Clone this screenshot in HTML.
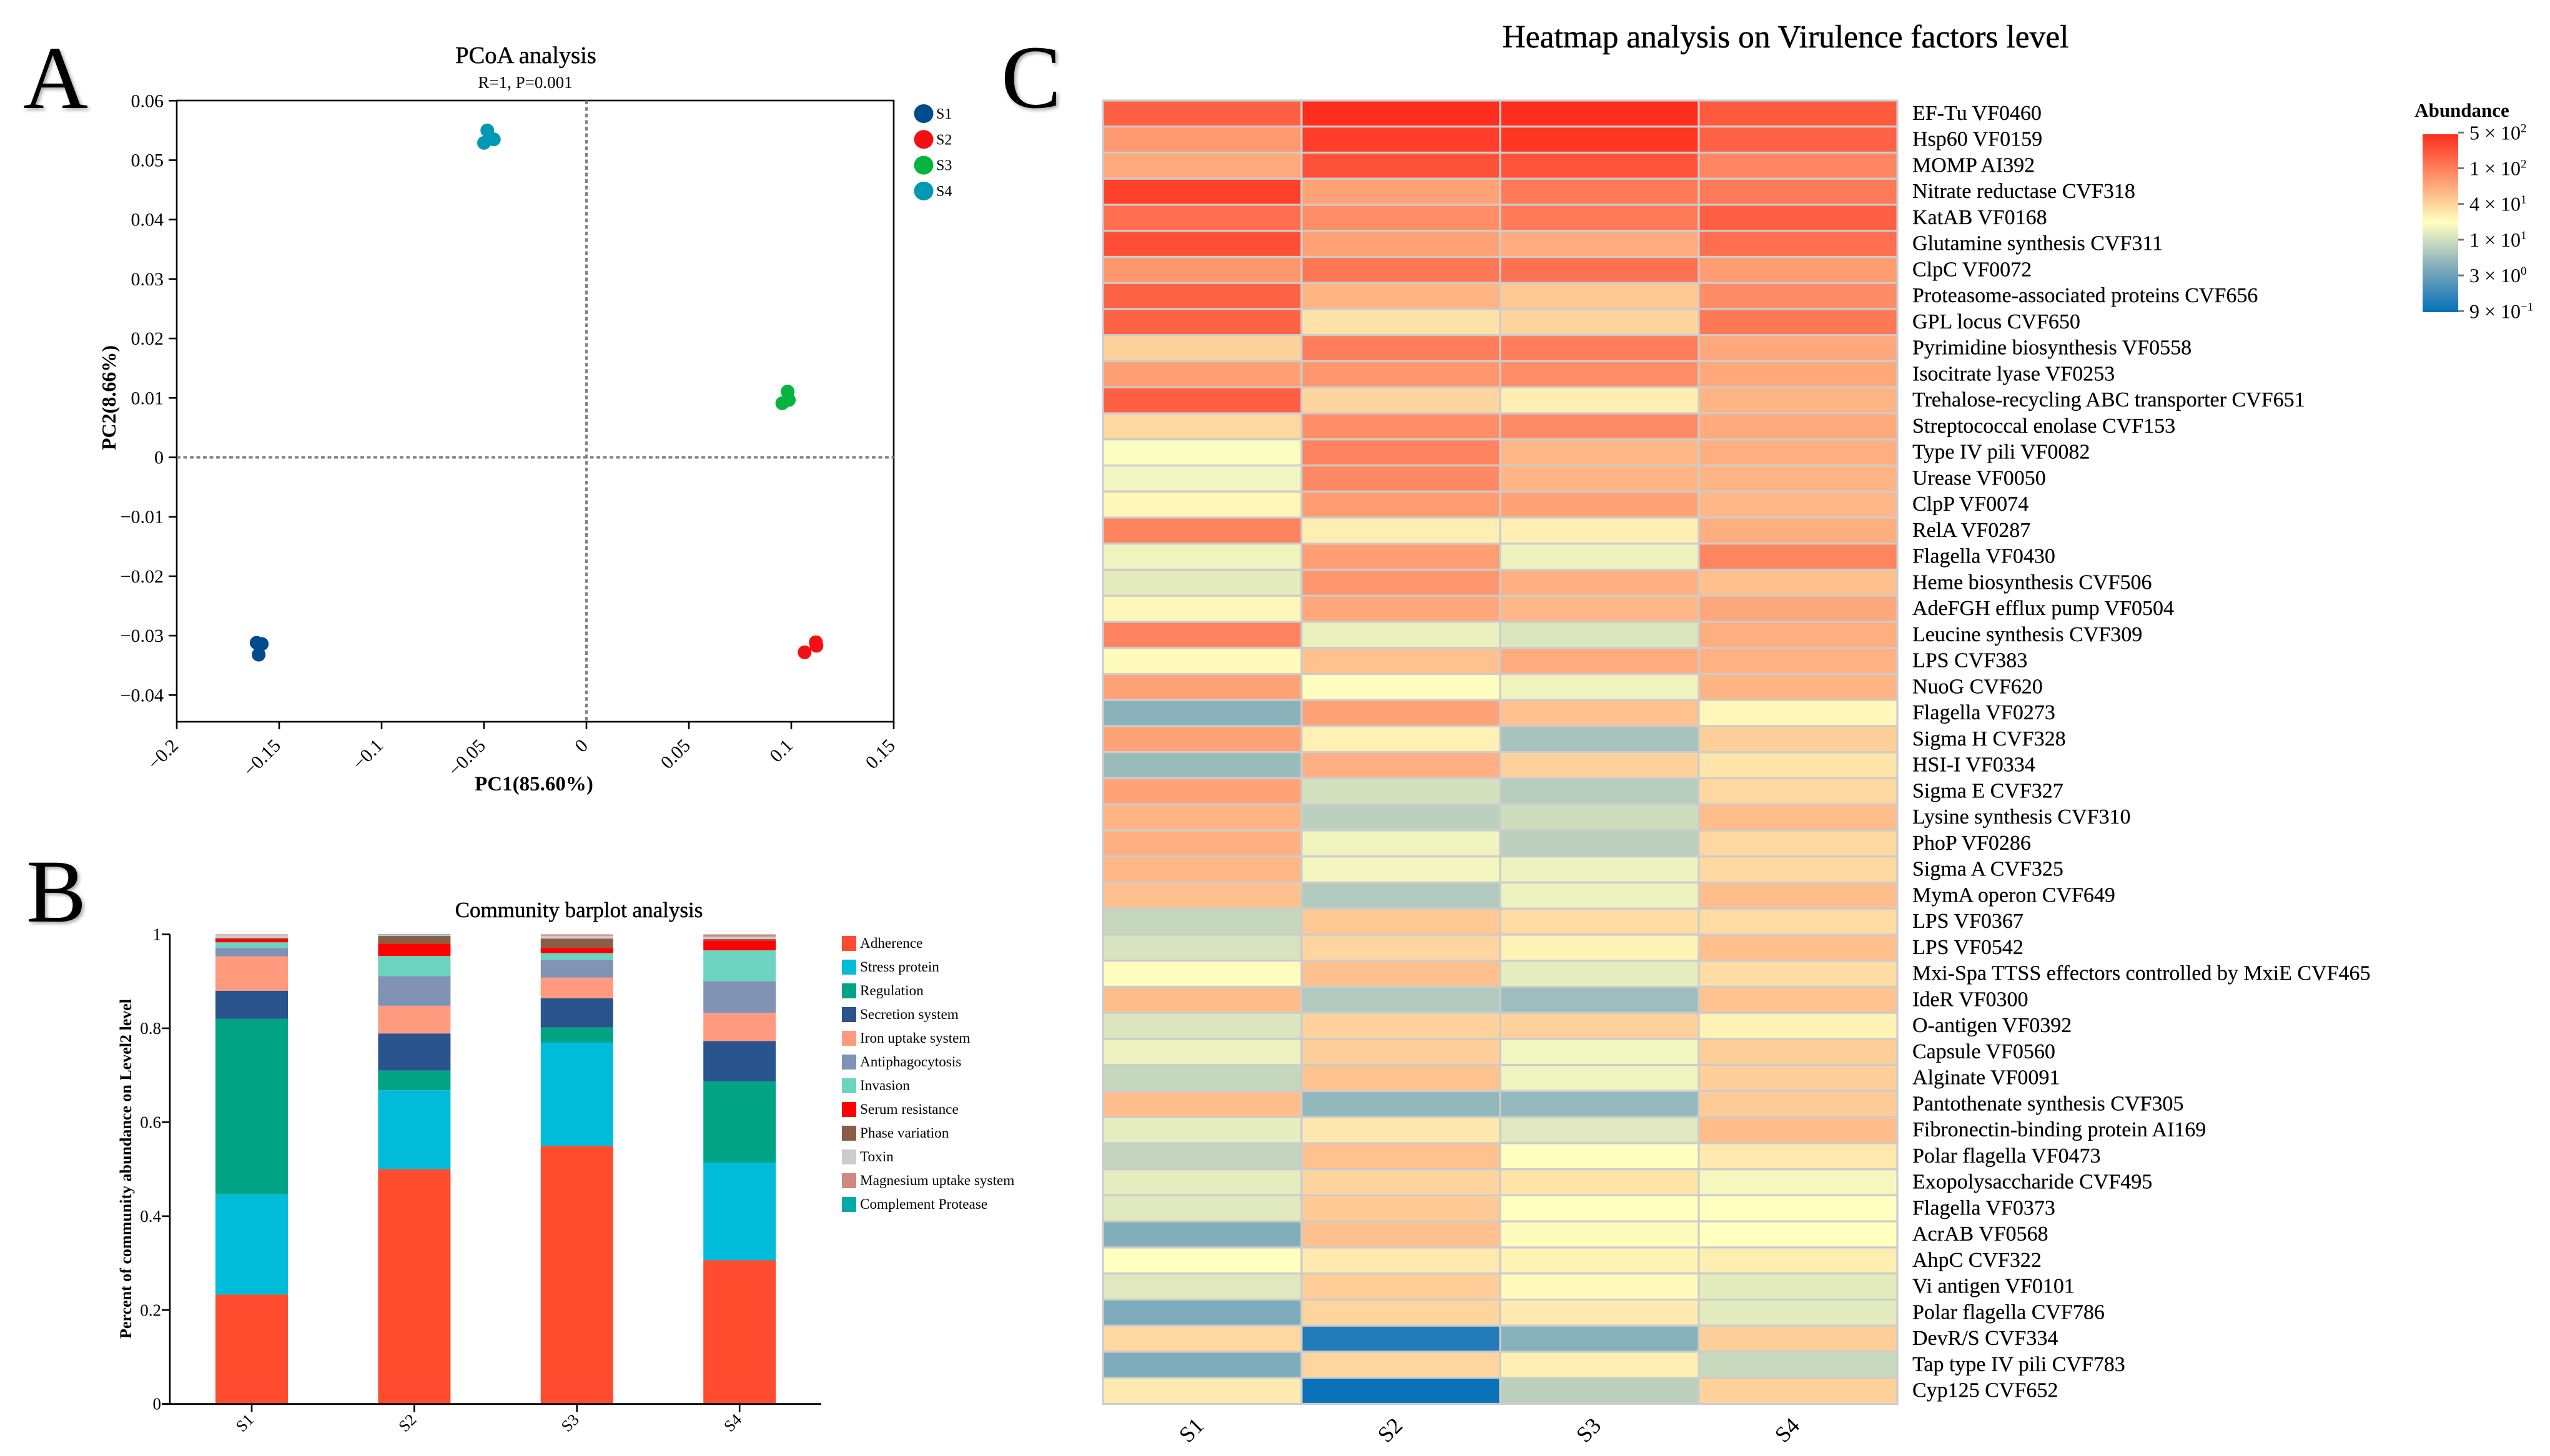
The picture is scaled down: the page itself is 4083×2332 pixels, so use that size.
<!DOCTYPE html>
<html lang="en">
<head>
<meta charset="utf-8">
<title>Virulence factor analysis figure</title>
<style>
html,body{margin:0;padding:0;background:#fff;}
svg{display:block;}
text{font-family:"Liberation Serif","Times New Roman",serif;fill:#000;}
.heavy{stroke:#000;stroke-width:.5px;}
.semi{stroke:#000;stroke-width:.2px;}
</style>
</head>
<body>
<svg id="fig" xmlns="http://www.w3.org/2000/svg" width="4083" height="2332" viewBox="0 0 4083 2332">
  <defs>
    <linearGradient id="cbar" x1="0" y1="0" x2="0" y2="1">
      <stop offset="0" stop-color="#FF2E1C"/>
      <stop offset="0.495" stop-color="#FFFFBF"/>
      <stop offset="0.7475" stop-color="#82ADBC"/>
      <stop offset="1" stop-color="#0570B8"/>
    </linearGradient>
  </defs>
  <rect x="0" y="0" width="4083" height="2332" fill="#fff"/>

  <text x="37" y="173" font-size="144" style="filter:drop-shadow(3px 3px 3px rgba(0,0,0,.35))">A</text>
  <text x="42" y="1476" font-size="144" style="filter:drop-shadow(3px 3px 3px rgba(0,0,0,.35))">B</text>
  <text x="1603" y="172" font-size="144" style="filter:drop-shadow(3px 3px 3px rgba(0,0,0,.35))">C</text>

  <text class="heavy" x="842" y="101" font-size="38.5" text-anchor="middle">PCoA analysis</text>
  <text x="841" y="141" font-size="27" text-anchor="middle">R=1, P=0.001</text>
  <text x="855" y="1266" font-size="33" font-weight="bold" text-anchor="middle">PC1(85.60%)</text>
  <text transform="translate(185,637) rotate(-90)" font-size="32" font-weight="bold" text-anchor="middle">PC2(8.66%)</text>

  <text class="heavy" x="927" y="1469" font-size="35" text-anchor="middle">Community barplot analysis</text>
  <text transform="translate(210,1872) rotate(-90)" font-size="26" font-weight="bold" text-anchor="middle">Percent of community abundance on Level2 level</text>

  <text class="heavy" x="2859" y="76" font-size="51.5" text-anchor="middle">Heatmap analysis on Virulence factors level</text>
  <text x="3942" y="187" font-size="31" font-weight="bold" text-anchor="middle">Abundance</text>
  <rect x="3879" y="215" width="57" height="285" fill="url(#cbar)"/>

  <g id="pcoa"></g>
  <g id="barplot"></g>
  <g id="heatmap"></g>
</svg>

<script>
/* ---------- PCoA data ---------- */
const pcoaGroups = ['S1','S2','S3','S4'];
const pcoaColors = ['#004A8F','#F50F14','#04B43C','#0098B4'];
const s1Pc1 = [-0.161,-0.1585,-0.160];
const s1Pc2 = [-0.0312,-0.0314,-0.0332];
const s2Pc1 = [0.112,0.1123,0.1065];
const s2Pc2 = [-0.0311,-0.0317,-0.0328];
const s3Pc1 = [0.0982,0.0988,0.0956];
const s3Pc2 = [0.01106,0.00965,0.0091];
const s4Pc1 = [-0.0484,-0.0452,-0.050];
const s4Pc2 = [0.055,0.0535,0.0529];
const pcoaXTicks = [-0.2,-0.15,-0.1,-0.05,0,0.05,0.1,0.15];
const pcoaYTicks = [0.06,0.05,0.04,0.03,0.02,0.01,0,-0.01,-0.02,-0.03,-0.04];

/* ---------- Bar plot data ---------- */
const barCategories = ['S1','S2','S3','S4'];
const barSeriesNames = ['Adherence','Stress protein','Regulation','Secretion system','Iron uptake system','Antiphagocytosis','Invasion','Serum resistance','Phase variation','Toxin','Magnesium uptake system','Complement Protease'];
const barSeriesColors = ['#FF4B2E','#00BCD8','#00A383','#2A548D','#FF9A7F','#8092B5','#6DD3C1','#FF0000','#8A5E44','#CCCCCC','#CF8A80','#00AAA8'];
const adherence = [0.233,0.500,0.549,0.306];
const stressProtein = [0.213,0.168,0.221,0.208];
const regulation = [0.374,0.042,0.032,0.173];
const secretionSystem = [0.060,0.079,0.062,0.086];
const ironUptake = [0.073,0.059,0.044,0.060];
const antiphagocytosis = [0.018,0.063,0.038,0.067];
const invasion = [0.012,0.043,0.014,0.066];
const serumResistance = [0.007,0.026,0.011,0.021];
const phaseVariation = [0.002,0.0166,0.020,0.003];
const toxin = [0.006,0.0015,0.006,0.005];
const magnesiumUptake = [0.002,0.001,0.003,0.005];
const complementProtease = [0,0.001,0,0];
const barYTicks = [0,0.2,0.4,0.6,0.8,1];

/* ---------- Heatmap data (log10 abundance) ---------- */
const heatColumns = ['S1','S2','S3','S4'];
const heatRows = ['EF-Tu VF0460','Hsp60 VF0159','MOMP AI392','Nitrate reductase CVF318','KatAB VF0168','Glutamine synthesis CVF311','ClpC VF0072','Proteasome-associated proteins CVF656','GPL locus CVF650','Pyrimidine biosynthesis VF0558','Isocitrate lyase VF0253','Trehalose-recycling ABC transporter CVF651','Streptococcal enolase CVF153','Type IV pili VF0082','Urease VF0050','ClpP VF0074','RelA VF0287','Flagella VF0430','Heme biosynthesis CVF506','AdeFGH efflux pump VF0504','Leucine synthesis CVF309','LPS CVF383','NuoG CVF620','Flagella VF0273','Sigma H CVF328','HSI-I VF0334','Sigma E CVF327','Lysine synthesis CVF310','PhoP VF0286','Sigma A CVF325','MymA operon CVF649','LPS VF0367','LPS VF0542','Mxi-Spa TTSS effectors controlled by MxiE CVF465','IdeR VF0300','O-antigen VF0392','Capsule VF0560','Alginate VF0091','Pantothenate synthesis CVF305','Fibronectin-binding protein AI169','Polar flagella VF0473','Exopolysaccharide CVF495','Flagella VF0373','AcrAB VF0568','AhpC CVF322','Vi antigen VF0101','Polar flagella CVF786','DevR/S CVF334','Tap type IV pili CVF783','Cyp125 CVF652'];
const heatS1 = [2.37,2.00,1.89,2.58,2.28,2.49,2.01,2.35,2.35,1.62,1.96,2.38,1.59,1.31,1.25,1.38,2.14,1.24,1.18,1.38,2.14,1.35,1.93,0.69,1.93,0.77,1.93,1.82,1.85,1.80,1.74,1.01,1.11,1.34,1.76,1.135,1.22,1.01,1.76,1.19,1.00,1.19,1.16,0.64,1.33,1.15,0.62,1.59,0.62,1.46];
const heatS2 = [2.70,2.60,2.47,1.94,2.07,1.94,2.22,1.82,1.52,2.18,2.02,1.60,2.07,2.14,2.10,1.98,1.44,1.97,2.02,1.90,1.21,1.73,1.34,1.93,1.42,1.85,1.09,0.96,1.245,1.26,0.90,1.68,1.60,1.74,0.90,1.62,1.64,1.72,0.73,1.48,1.73,1.60,1.68,1.74,1.47,1.65,1.60,0.11,1.60,-0.02];
const heatS3 = [2.70,2.65,2.45,2.20,2.20,1.88,2.25,1.69,1.60,2.18,2.07,1.44,2.08,1.80,1.81,1.94,1.43,1.23,1.85,1.80,1.135,1.88,1.24,1.73,0.84,1.62,0.93,1.06,0.95,1.23,1.23,1.56,1.41,1.19,0.79,1.62,1.25,1.24,0.74,1.15,1.33,1.50,1.33,1.35,1.41,1.36,1.46,0.66,1.43,0.95];
const heatS4 = [2.41,2.35,2.12,2.20,2.37,2.28,1.98,2.08,2.21,1.90,1.90,1.82,1.89,1.86,1.82,1.80,1.86,2.13,1.74,1.90,1.86,1.84,1.82,1.37,1.64,1.50,1.58,1.76,1.58,1.58,1.76,1.56,1.74,1.56,1.72,1.41,1.64,1.64,1.67,1.76,1.47,1.27,1.33,1.33,1.44,1.18,1.17,1.64,1.03,1.62];
const colorbarLabels = ['5 × 10^2','1 × 10^2','4 × 10^1','1 × 10^1','3 × 10^0','9 × 10^−1'];

/* ---------- helpers ---------- */
const NS = 'http://www.w3.org/2000/svg';
function mk(parent, tag, attrs, txt){
  const e = document.createElementNS(NS, tag);
  for (const k in attrs) e.setAttribute(k, attrs[k]);
  if (txt !== undefined) e.textContent = txt;
  parent.appendChild(e);
  return e;
}
const fmtNeg = v => String(v).replace('-', '\u2212');

/* ---------- PCoA ---------- */
(function(){
  const g = document.getElementById('pcoa');
  const L = 283, R = 1431, T = 161, B = 1156;
  const x = v => L + (v + 0.2) / 0.35 * (R - L);
  const y = v => 732.5 - v * 9520;

  const frame = mk(g,'rect',{x:L,y:T,width:R-L,height:B-T,fill:'none',stroke:'#000','stroke-width':2.6});
  
  

  const vz = mk(g,'line',{x1:x(0),x2:x(0),y1:T,y2:B,stroke:'#808080','stroke-width':4,'stroke-dasharray':'6 4.5'});
  
  
  const hz = mk(g,'line',{x1:L,x2:R,y1:y(0),y2:y(0),stroke:'#808080','stroke-width':4,'stroke-dasharray':'6 4.5'});
  
  

  pcoaXTicks.forEach(v => {
    const t = mk(g,'line',{x1:x(v),x2:x(v),y1:B,y2:B+12,stroke:'#000','stroke-width':2.6});
    
    
    const l = mk(g,'text',{transform:`translate(${x(v)+4},1196) rotate(-45)`,'font-size':30,'text-anchor':'end'},fmtNeg(v));
    
    
  });
  pcoaYTicks.forEach(v => {
    const t = mk(g,'line',{x1:L-13,x2:L,y1:y(v),y2:y(v),stroke:'#000','stroke-width':2.6});
    
    
    const l = mk(g,'text',{x:262,y:y(v)+10,'font-size':30,'text-anchor':'end'},fmtNeg(v));
    
    
  });

  const xs = [s1Pc1,s2Pc1,s3Pc1,s4Pc1];
  const ys = [s1Pc2,s2Pc2,s3Pc2,s4Pc2];
  pcoaGroups.forEach((name,i) => {
    xs[i].forEach((v,j) => {
      const c = mk(g,'ellipse',{cx:x(v),cy:y(ys[i][j]),rx:11,ry:11,fill:pcoaColors[i]});
      
      
    });
    const ly = 182 + i * 41.3;
    const lc = mk(g,'ellipse',{cx:1479,cy:ly,rx:15.5,ry:15,fill:pcoaColors[i]});
    
    
    const lt = mk(g,'text',{x:1499,y:ly+8,'font-size':24},name);
    
    
  });
})();

/* ---------- Stacked bar plot ---------- */
(function(){
  const g = document.getElementById('barplot');
  const L = 272, R = 1315, Y0 = 2248.7, Y1 = 1496.5, barW = 116;
  const y = v => Y0 - v * (Y0 - Y1);
  const cx = i => 403 + i * 260.4;
  const series = [adherence,stressProtein,regulation,secretionSystem,ironUptake,antiphagocytosis,invasion,serumResistance,phaseVariation,toxin,magnesiumUptake,complementProtease];

  barCategories.forEach((cat,i) => {
    let acc = 0;
    series.forEach((s,k) => {
      const h = s[i];
      const r = mk(g,'rect',{x:cx(i)-barW/2,y:y(acc+h),width:barW,height:Math.max(0,y(acc)-y(acc+h)),fill:barSeriesColors[k]});
      
      
      acc += h;
    });
    const t = mk(g,'line',{x1:cx(i),x2:cx(i),y1:Y0,y2:Y0+13,stroke:'#000','stroke-width':2.6});
    
    
    const l = mk(g,'text',{transform:`translate(${cx(i)-5},2285) rotate(-45)`,'font-size':26,'text-anchor':'middle'},cat);
    
    
  });

  const ax = mk(g,'line',{x1:L-13,x2:R,y1:Y0,y2:Y0,stroke:'#000','stroke-width':2.8});
  
  
  const ay = mk(g,'line',{x1:L,x2:L,y1:Y1,y2:Y0,stroke:'#000','stroke-width':2.6});
  
  

  barYTicks.forEach(v => {
    const t = mk(g,'line',{x1:L-13,x2:L,y1:y(v),y2:y(v),stroke:'#000','stroke-width':2.6});
    
    
    const l = mk(g,'text',{x:258,y:y(v)+9,'font-size':27,'text-anchor':'end'},String(v));
    
    
  });

  barSeriesNames.forEach((name,i) => {
    const ly = 1511 + i * 38.0;
    const s = mk(g,'rect',{x:1348,y:ly-12,width:23,height:24,fill:barSeriesColors[i]});
    
    
    const t = mk(g,'text',{x:1377,y:ly+7,'font-size':23.2},name);
    
    
  });
})();

/* ---------- Heatmap ---------- */
(function(){
  const g = document.getElementById('heatmap');
  const L = 1766, T = 161, cw = 318, rh = 41.75;
  const cols = [heatS1,heatS2,heatS3,heatS4];
  const lo = -0.046, hi = 2.7, mid = 1.327;
  const cTop = [255,46,28], cMid = [255,255,191], cBot = [5,112,184];
  function color(v){
    const t = v >= mid ? (v - mid) / (hi - mid) : (mid - v) / (mid - lo);
    const end = v >= mid ? cTop : cBot;
    const u = Math.min(1, Math.max(0, t));
    const rgb = cMid.map((c,i) => c + (end[i] - c) * u);
    if (v < mid) rgb[1] -= 40 * u * (1 - u);
    return 'rgb(' + rgb.map(Math.round).join(',') + ')';
  }
  heatRows.forEach((name,r) => {
    heatColumns.forEach((col,c) => {
      const cell = mk(g,'rect',{x:L+c*cw,y:T+r*rh,width:cw,height:rh,fill:color(cols[c][r]),stroke:'#cccccc','stroke-width':3.2});
      
      
    });
    const l = mk(g,'text',{x:3062,y:T+(r+0.5)*rh+10,'font-size':34,'class':'semi'},name);
    
    
  });
  heatColumns.forEach((col,c) => {
    const l = mk(g,'text',{transform:`translate(${L+(c+0.5)*cw-9},2299) rotate(-45)`,'font-size':36,'text-anchor':'middle'},col);
    
    
  });
  colorbarLabels.forEach((lab,i) => {
    const yy = 212.3 + i * 57.2;
    const t = mk(g,'line',{x1:3936,x2:3945,y1:yy,y2:yy,stroke:'#777','stroke-width':3});
    
    
    const parts = lab.split('^');
    const l = mk(g,'text',{x:3954,y:yy+11,'font-size':32},parts[0]);
    
    
    mk(l,'tspan',{dy:-12,'font-size':19},parts[1]);
  });
})();
</script>
</body>
</html>
